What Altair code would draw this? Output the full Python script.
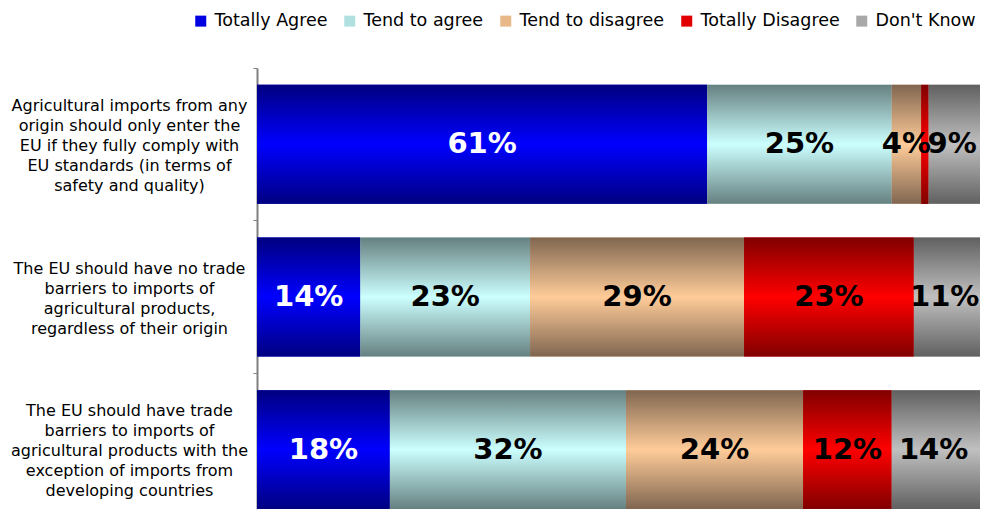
import altair as alt
import pandas as pd

statements = [
    "Agricultural imports from any|origin should only enter the|EU if they fully comply with|EU standards (in terms of|safety and quality)",
    "The EU should have no trade|barriers to imports of|agricultural products,|regardless of their origin",
    "The EU should have trade|barriers to imports of|agricultural products with the|exception of imports from|developing countries",
]
categories = ["Totally Agree", "Tend to agree", "Tend to disagree", "Totally Disagree", "Don't Know"]
totally_agree = [61, 14, 18]
tend_to_agree = [25, 23, 32]
tend_to_disagree = [4, 29, 24]
totally_disagree = [1, 23, 12]
dont_know = [9, 11, 14]

center_colors = ["#0000FF", "#CCFFFF", "#FFCC99", "#FF0000", "#C0C0C0"]
edge_colors = ["#000080", "#668080", "#806650", "#800000", "#606060"]
legend_colors = ["#0000E0", "#B0E0E0", "#E8B888", "#E00000", "#A8A8A8"]

series = [totally_agree, tend_to_agree, tend_to_disagree, totally_disagree, dont_know]
rows = []
for ci, (cat, vals) in enumerate(zip(categories, series)):
    for s, v in zip(statements, vals):
        rows.append({"statement": s, "category": cat, "order": ci, "value": v})
df = pd.DataFrame(rows)

FONT = "DejaVu Sans"
PLOT_W = 723      # visible plot width (page is cropped at the right)
RANGE_W = 738     # full 0-100% extent, continues past the visible edge
VIS_MAX = 100.0 * PLOT_W / RANGE_W - 0.6

xscale = alt.Scale(domain=[0, 100], range=[0, RANGE_W], nice=False, zero=True)
yscale = alt.Scale(domain=statements, range=[0, 458], paddingInner=0.22, paddingOuter=0.11)
yaxis = alt.Axis(
    title=None,
    labelExpr="split(datum.label, '|')",
    labelAlign="center",
    labelBaseline={"condition": {"test": "datum.value == '" + statements[1] + "'", "value": "line-top"}, "value": "middle"},
    labelPadding=124,
    bandPosition=0,
    tickOffset=-17,
    labelOffset=-22,
    labelFontSize=16,
    labelFont=FONT,
    labelColor="#000000",
    labelLineHeight=20,
    labelLimit=0,
    tickSize=4,
    tickColor="#808080",
    domainColor="#808080",
    domainWidth=2,
    grid=False,
)

y_enc = alt.Y("statement:N", sort=statements, scale=yscale, axis=yaxis)
x_enc = alt.X("x0:Q", scale=xscale, axis=None)

base = alt.Chart(df).transform_stack(
    stack="value",
    groupby=["statement"],
    as_=["x0", "x1"],
    sort=[alt.SortField("order", order="ascending")],
)

legend = alt.Legend(
    title=None,
    orient="none",
    direction="horizontal",
    legendX=-65,
    legendY=-56,
    symbolType="square",
    symbolSize=121,
    symbolStrokeWidth=0,
    labelFont=FONT,
    labelFontSize=17.5,
    labelColor="#000000",
    labelOffset=5,
    columnPadding=13,
    padding=0,
    labelLimit=0,
)

bars_base = base.mark_bar().encode(
    x=x_enc,
    x2="x1:Q",
    y=y_enc,
    color=alt.Color("category:N", scale=alt.Scale(domain=categories, range=legend_colors), legend=legend, sort=categories),
)

layers = [bars_base]
for cat, c_edge, c_center in zip(categories, edge_colors, center_colors):
    grad = alt.Gradient(
        gradient="linear",
        x1=0, x2=0, y1=0, y2=1,
        stops=[
            alt.GradientStop(offset=0, color=c_edge),
            alt.GradientStop(offset=0.5, color=c_center),
            alt.GradientStop(offset=1, color=c_edge),
        ],
    )
    layers.append(
        base.transform_filter(alt.datum.category == cat)
        .mark_bar(fill=grad)
        .encode(x=x_enc, x2="x1:Q", y=y_enc)
    )

text = base.transform_filter(alt.datum.value >= 3).transform_calculate(
    mid="(datum.x0 + min(datum.x1, %f)) / 2" % VIS_MAX,
    lbl="datum.value + '%'",
).mark_text(font=FONT, fontWeight="bold", fontSize=29, baseline="middle", align="center").encode(
    x=alt.X("mid:Q", scale=xscale, axis=None),
    y=y_enc,
    text="lbl:N",
    color=alt.condition(alt.datum.category == "Totally Agree", alt.value("#FFFFFF"), alt.value("#000000")),
)
layers.append(text)

chart = alt.layer(*layers).properties(
    width=PLOT_W,
    height=441,
    autosize=alt.AutoSizeParams(type="none"),
    padding={"left": 249, "top": 60, "right": 0, "bottom": 0},
).configure_view(stroke=None)

chart.save("out.html", embed_options={"renderer": "svg", "actions": False})
